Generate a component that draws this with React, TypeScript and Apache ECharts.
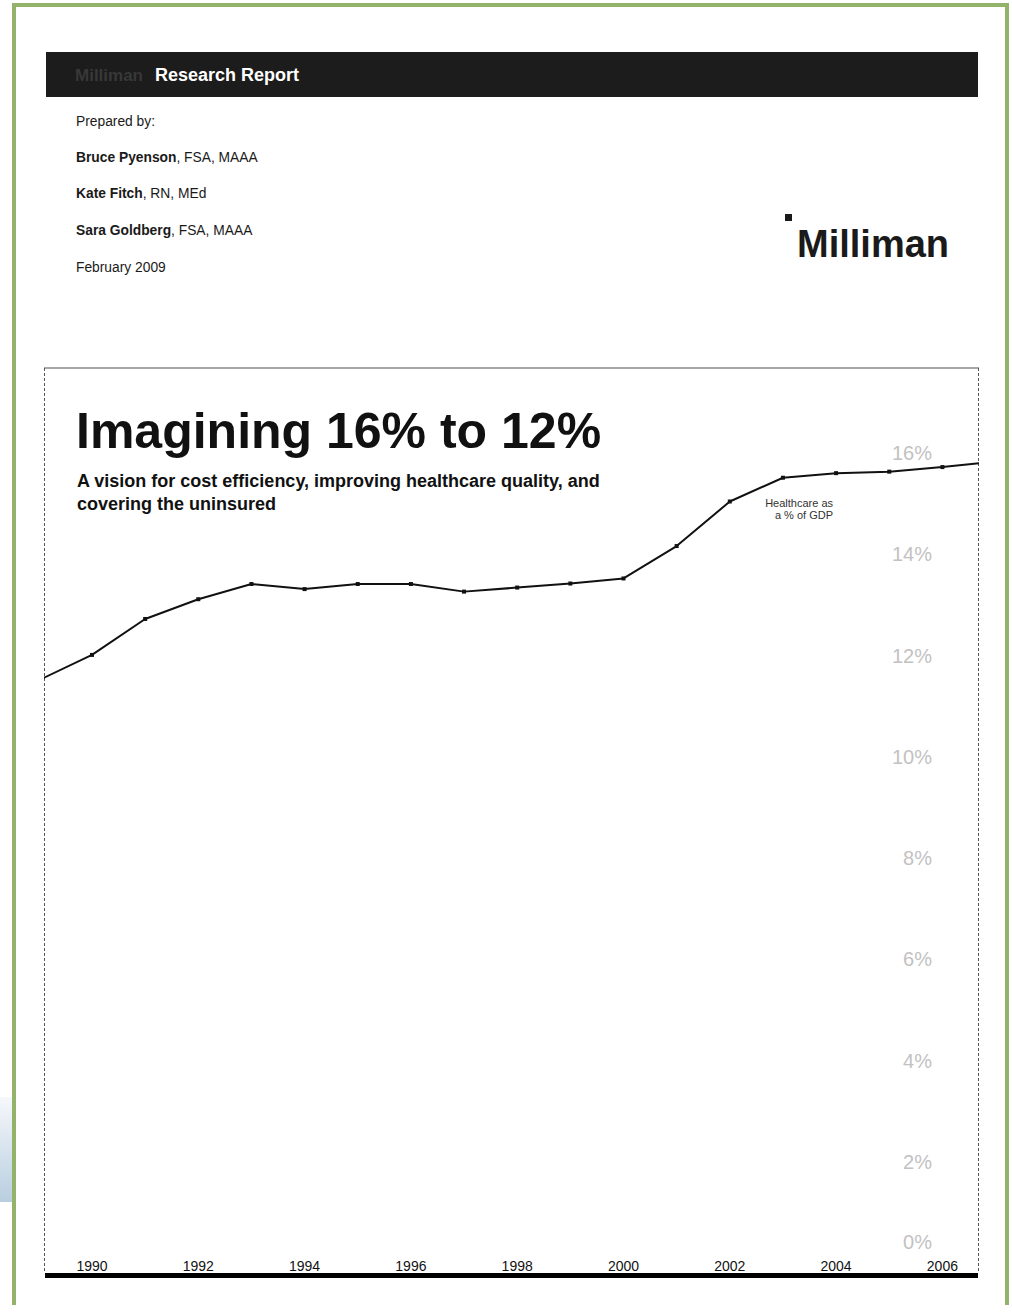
import React, { useEffect, useRef } from "react";
import * as echarts from "echarts";

// ---- Data ----
const years = [1989, 1990, 1991, 1992, 1993, 1994, 1995, 1996, 1997, 1998, 1999, 2000, 2001, 2002, 2003, 2004, 2005, 2006, 2007];
const healthcareShareOfGdp = [11.65, 12.15, 12.86, 13.25, 13.55, 13.45, 13.55, 13.55, 13.4, 13.48, 13.56, 13.66, 14.3, 15.18, 15.65, 15.74, 15.77, 15.86, 15.97];
const xTickYears = [1990, 1992, 1994, 1996, 1998, 2000, 2002, 2004, 2006];
const yTickValues = [2, 4, 6, 8, 10, 12, 14, 16];
const yZeroTick = [0];

const headerTitle = "Research Report";
const headerBrand = "Milliman";
const preparedBy = "Prepared by:";
const authorNames = ["Bruce Pyenson", "Kate Fitch", "Sara Goldberg"];
const authorCredentials = [", FSA, MAAA", ", RN, MEd", ", FSA, MAAA"];
const reportDate = "February 2009";
const logoText = "Milliman";
const chartTitle = "Imagining 16% to 12%";
const chartSubtitle = ["A vision for cost efficiency, improving healthcare quality, and", "covering the uninsured"];
const seriesLabel = ["Healthcare as", "a % of GDP"];

const FONT = "'Liberation Sans', Arial, Helvetica, sans-serif";
const GREEN = "#93b36a";

export default function App() {
  const ref = useRef<HTMLDivElement>(null);

  useEffect(() => {
    if (!ref.current) return;
    const chart = echarts.init(ref.current, null, { renderer: "svg" });

    const txt = (x: number, y: number, text: string, size: number, opts: any = {}) => ({
      type: "text",
      x,
      y,
      silent: true,
      style: {
        text,
        fill: opts.fill || "#1a1a1a",
        fontSize: size,
        fontWeight: opts.weight || "normal",
        fontFamily: FONT,
        align: opts.align || "left",
        textAlign: opts.align || "left",
        verticalAlign: "middle",
        textVerticalAlign: "middle",
        rich: opts.rich,
      },
    });

    const authorY = [157, 193, 230];
    const AUTH_SIZE = 13.8;

    const graphics: any[] = [
      // green page frame
      { type: "rect", shape: { x: 12, y: 3, width: 997, height: 4 }, style: { fill: GREEN } },
      { type: "rect", shape: { x: 12, y: 3, width: 4, height: 1302 }, style: { fill: GREEN } },
      { type: "rect", shape: { x: 1005, y: 3, width: 4, height: 1302 }, style: { fill: GREEN } },
      {
        type: "rect",
        shape: { x: 0, y: 1097, width: 12, height: 105 },
        style: {
          fill: new echarts.graphic.LinearGradient(0, 0, 0, 1, [
            { offset: 0, color: "#f6f8fb" },
            { offset: 1, color: "#b8cedf" },
          ]),
        },
      },
      // header bar
      { type: "rect", shape: { x: 46, y: 52, width: 932, height: 45 }, style: { fill: "#1c1c1c" } },
      txt(75, 75, headerBrand, 17, { weight: "bold", fill: "#383838" }),
      txt(155, 75, headerTitle, 18, { weight: "bold", fill: "#ffffff" }),
      // authors
      txt(76, 121, preparedBy, AUTH_SIZE),
      ...authorNames.map((n, i) =>
        txt(76, authorY[i], `{b|${n}}{r|${authorCredentials[i]}}`, AUTH_SIZE, {
          rich: {
            b: { fontWeight: "bold", fontSize: AUTH_SIZE, fontFamily: FONT, fill: "#1a1a1a" },
            r: { fontWeight: "normal", fontSize: AUTH_SIZE, fontFamily: FONT, fill: "#1a1a1a" },
          },
        })
      ),
      txt(76, 267, reportDate, AUTH_SIZE),
      // logo
      { type: "rect", shape: { x: 785, y: 214, width: 7, height: 7 }, style: { fill: "#1a1a1a" } },
      txt(797, 244, logoText, 38, { weight: "bold" }),
      // chart frame
      { type: "line", shape: { x1: 44, y1: 368, x2: 979, y2: 368 }, style: { stroke: "#8a8a8a", lineWidth: 1.5 } },
      { type: "line", shape: { x1: 44.5, y1: 368, x2: 44.5, y2: 1273 }, style: { stroke: "#555", lineWidth: 1, lineDash: [3, 2] } },
      { type: "line", shape: { x1: 978.5, y1: 368, x2: 978.5, y2: 1273 }, style: { stroke: "#555", lineWidth: 1, lineDash: [3, 2] } },
      // titles
      txt(76, 431, chartTitle, 50, { weight: "bold", fill: "#111" }),
      txt(77, 481, chartSubtitle[0], 18, { weight: "bold", fill: "#111" }),
      txt(77, 504, chartSubtitle[1], 18, { weight: "bold", fill: "#111" }),
      // series annotation
      txt(833, 503, seriesLabel[0], 11, { align: "right", fill: "#333" }),
      txt(833, 515, seriesLabel[1], 11, { align: "right", fill: "#333" }),
    ];

    const yLabelBase = {
      inside: true,
      margin: 46,
      color: "#c2c2c2",
      fontSize: 20,
      fontFamily: FONT,
      verticalAlign: "bottom",
      formatter: (v: number) => `${v}%`,
    };

    chart.setOption({
      animation: false,
      backgroundColor: "#ffffff",
      grid: { left: 45, right: 34, top: 460, bottom: 44, containLabel: false },
      xAxis: {
        type: "value",
        min: 1989.116,
        max: 2006.67,
        offset: 5,
        axisLine: { show: true, onZero: false, lineStyle: { color: "#000", width: 5, cap: "butt" } },
        axisTick: { show: false },
        splitLine: { show: false },
        axisLabel: {
          inside: true,
          margin: 2,
          customValues: xTickYears,
          formatter: (v: number) => String(v),
          fontSize: 14,
          color: "#111",
          fontFamily: FONT,
          verticalAlign: "bottom",
        },
      },
      yAxis: [
        {
          type: "value",
          min: 0,
          max: 16,
          position: "right",
          axisLine: { show: false },
          axisTick: { show: false },
          splitLine: { show: false },
          axisLabel: { ...yLabelBase, customValues: yTickValues, lineHeight: 14 },
        },
        {
          type: "value",
          min: 0,
          max: 16,
          position: "right",
          axisLine: { show: false },
          axisTick: { show: false },
          splitLine: { show: false },
          axisLabel: { ...yLabelBase, customValues: yZeroTick, lineHeight: 56 },
        },
      ],
      series: [
        {
          type: "line",
          yAxisIndex: 0,
          data: years.map((yr, i) => [yr, healthcareShareOfGdp[i]]),
          symbol: "rect",
          symbolSize: 4,
          showSymbol: true,
          lineStyle: { color: "#111", width: 2 },
          itemStyle: { color: "#111" },
          clip: true,
          silent: true,
        },
      ],
      graphic: graphics,
    });

    return () => chart.dispose();
  }, []);

  return (
    <div
      ref={ref}
      style={{ position: "absolute", left: 0, top: 0, width: 1012, height: 1314, background: "#fff" }}
    />
  );
}
